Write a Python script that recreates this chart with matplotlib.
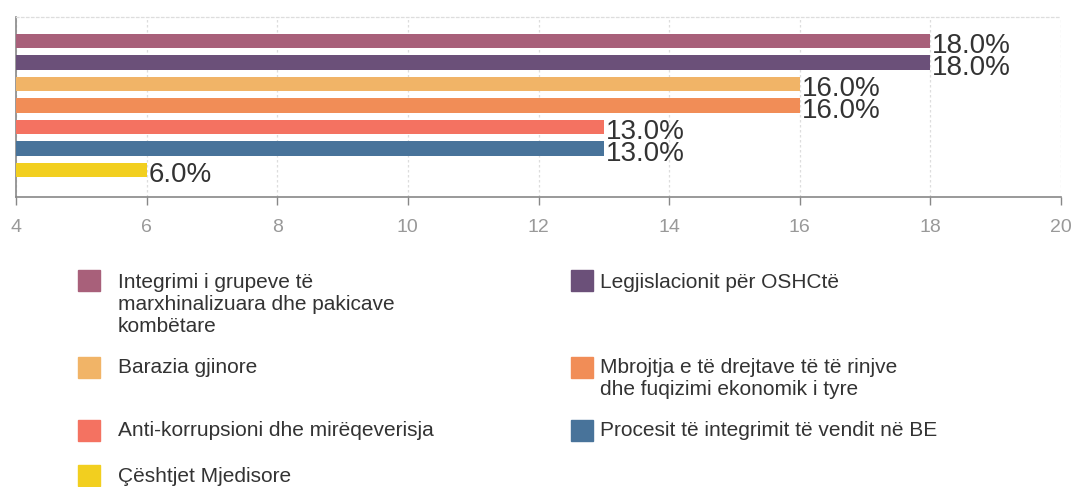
import matplotlib
matplotlib.use("Agg")
import matplotlib.pyplot as plt
from matplotlib.patches import Rectangle

categories = [
    "Integrimi i grupeve të\nmarxhinalizuara dhe pakicave\nkombëtare",
    "Legjislacionit për OSHCtë",
    "Barazia gjinore",
    "Mbrojtja e të drejtave të të rinjve\ndhe fuqizimi ekonomik i tyre",
    "Anti-korrupsioni dhe mirëqeverisja",
    "Procesit të integrimit të vendit në BE",
    "Çështjet Mjedisore",
]
values = [18.0, 18.0, 16.0, 16.0, 13.0, 13.0, 6.0]
colors = ["#a8607a", "#6b5079", "#f1b467", "#f18d57", "#f47261", "#48739a", "#f2cf1f"]
xticks = [4, 6, 8, 10, 12, 14, 16, 18, 20]

plt.rcParams['font.family'] = ['Liberation Sans', 'DejaVu Sans']

W, H = 1073, 487
fig = plt.figure(figsize=(W / 100, H / 100), dpi=100)
ax = fig.add_axes([16 / W, 1 - 197 / H, (1061 - 16) / W, (197 - 17) / H])

ypos = list(range(len(values)))
ax.barh(ypos, [v - 4 for v in values], left=4, height=0.66, color=colors, zorder=3)
for y, v in zip(ypos, values):
    ax.text(v + 0.03, y + 0.25, f"{v:.1f}%", va="center", ha="left", fontsize=20, color="#333333", zorder=4)

ax.set_xlim(4, 20)
ax.set_ylim(6 + 1.26, -1.12)
ax.set_xticks(xticks)
ax.set_xticklabels([str(t) for t in xticks])
ax.set_yticks([])
ax.tick_params(axis='x', colors="#888888", labelcolor="#999999", labelsize=14, length=6, width=1, pad=10, direction='out')
ax.grid(axis='x', color="#dddddd", linestyle=(0, (2, 2)), linewidth=0.9, zorder=0)
for s in ["left", "bottom"]:
    ax.spines[s].set_color("#888888")
    ax.spines[s].set_linewidth(1.2)
ax.spines["right"].set_visible(False)
ax.spines["top"].set_color("#dddddd")
ax.spines["top"].set_linestyle((0, (2, 2)))
ax.spines["top"].set_linewidth(0.9)

# legend (manual, two columns)
sq_x = [78, 571]
txt_x = [118, 600]
sq_top = [270, 357, 420, 465]
txt_top = [273, 358, 421, 467]
for i, (lab, c) in enumerate(zip(categories, colors)):
    r, col = divmod(i, 2)
    fig.patches.append(Rectangle((sq_x[col] / W, 1 - (sq_top[r] + 21) / H), 22 / W, 21 / H,
                                 transform=fig.transFigure, color=c))
    fig.text(txt_x[col] / W, 1 - txt_top[r] / H, lab, ha="left", va="top",
             fontsize=15, color="#333333", linespacing=1.2)

fig.savefig("out.png", dpi=100)
